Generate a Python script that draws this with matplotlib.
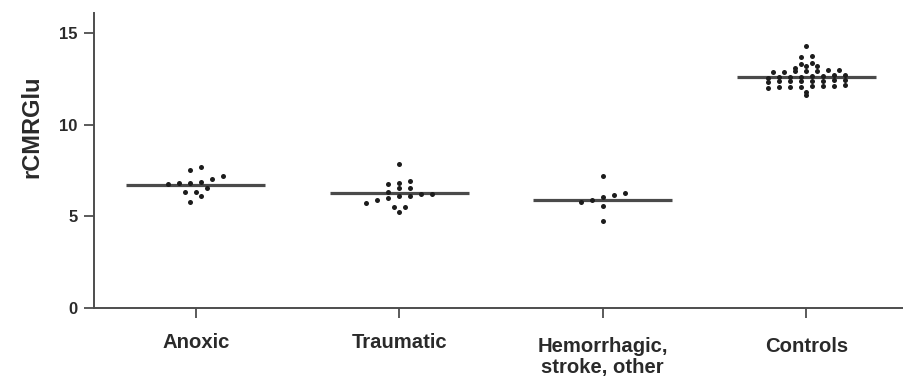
import numpy as np
import matplotlib
matplotlib.use("Agg")
import matplotlib.pyplot as plt
from matplotlib.transforms import ScaledTranslation

# Regional cerebral glucose metabolic rate per patient group
categories = ["Anoxic", "Traumatic", "Hemorrhagic,\nstroke, other", "Controls"]

anoxic = [7.7, 7.55, 7.2, 7.05, 6.85, 6.8, 6.8, 6.75, 6.55, 6.35, 6.3, 6.1, 5.8]
traumatic = [7.85, 6.9, 6.8, 6.75, 6.55, 6.55, 6.35, 6.2, 6.2, 6.1, 6.1,
             6.0, 5.9, 5.75, 5.5, 5.5, 5.25]
hemorrhagic = [7.2, 6.25, 6.15, 6.05, 5.9, 5.8, 5.55, 4.75]
controls = [14.3,
            13.75, 13.7,
            13.35, 13.3, 13.2, 13.2, 13.1,
            12.95, 12.9, 12.9, 12.85, 12.85, 12.9, 12.95,
            12.7, 12.65, 12.6, 12.7, 12.6, 12.65, 12.55, 12.6,
            12.4, 12.35, 12.45, 12.4, 12.3, 12.35, 12.45, 12.4,
            12.1, 12.05, 12.1, 12.05, 12.15, 12.0, 12.05, 12.1,
            11.8, 11.6]

group_means = [6.72, 6.25, 5.9, 12.6]
yticks = [0, 5, 10, 15]

groups = [anoxic, traumatic, hemorrhagic, controls]
# value band that counts as one row of dots in each column scatter
row_heights = [0.5, 0.5, 0.5, 0.28]


def column_offsets(values, row_h, step=0.054):
    """Lay points of similar value side by side, centred on the category."""
    values = np.asarray(values, dtype=float)
    rows = np.round(values / row_h)
    offs = np.zeros(len(values))
    for r in np.unique(rows):
        idx = np.where(rows == r)[0]
        idx = idx[np.argsort(values[idx])]
        n = len(idx)
        offs[idx] = (np.arange(n) - (n - 1) / 2) * step
    return offs


plt.rcParams["font.family"] = ["Liberation Sans", "DejaVu Sans"]

fig = plt.figure(figsize=(9.04, 3.77), dpi=100)
ax = fig.add_axes([94 / 904, 69 / 377, 810 / 904, 295.3 / 377])

dot_color = "#1c1c1c"
line_color = "#4a4a4a"
axis_color = "#4d4d4d"
text_color = "#2a2a2a"

for i, vals in enumerate(groups):
    xs = i + column_offsets(vals, row_heights[i])
    ax.plot(xs, vals, "o", ms=3.6, color=dot_color, mec="none", zorder=3)
    ax.plot([i - 0.342, i + 0.342], [group_means[i]] * 2,
            color=line_color, lw=2.3, solid_capstyle="butt", zorder=2)

ax.set_xlim(-0.5, 3.48)
ax.set_ylim(0, 16.1)
ax.set_xticks(range(len(categories)))
ax.set_xticklabels(categories, fontsize=14.6, fontweight="bold",
                   color=text_color, linespacing=1.1)
ax.set_yticks(yticks)
ax.set_yticklabels([str(t) for t in yticks], fontsize=12, fontweight="bold",
                   color=text_color)
ax.set_ylabel("rCMRGlu", fontsize=17, fontweight="bold", color=text_color)
ax.yaxis.set_label_coords(-0.063, 0.613)

for side in ("top", "right"):
    ax.spines[side].set_visible(False)
for side in ("left", "bottom"):
    ax.spines[side].set_color(axis_color)
    ax.spines[side].set_linewidth(1.4)
ax.tick_params(axis="both", direction="out", length=7, width=1.3,
               color=axis_color)
ax.tick_params(axis="x", pad=11)
ax.tick_params(axis="y", pad=5)

# the two right-hand category labels sit a little lower
for lab in ax.get_xticklabels()[2:]:
    lab.set_transform(lab.get_transform()
                      + ScaledTranslation(0, -4 / 100, fig.dpi_scale_trans))

fig.savefig("out.png", dpi=100)
